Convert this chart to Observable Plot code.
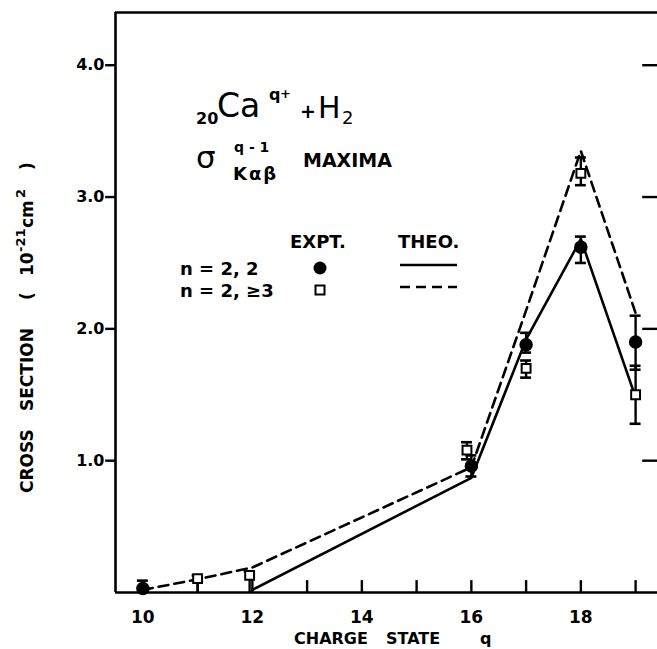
<!DOCTYPE html>
<html><head><meta charset="utf-8">
<script src="https://cdn.jsdelivr.net/npm/d3@7"></script>
<script src="https://cdn.jsdelivr.net/npm/@observablehq/plot@0.6"></script>
<style>html,body{margin:0;padding:0;background:#fff;overflow:hidden} svg{display:block}</style>
</head><body><div id="chart"></div>
<script>
// ---- data ----
const xTicks = [10, 11, 12, 13, 14, 15, 16, 17, 18, 19];
const xTickLabels = [10, 12, 14, 16, 18];
const yTicks = [1, 2, 3, 4];
const yTickLabels = ["1.0", "2.0", "3.0", "4.0"];

// theory, n = 2,2 (solid)
const theoQ22 = [12, 16, 17, 18, 19];
const theoV22 = [0.02, 0.87, 1.92, 2.68, 1.48];
// theory, n = 2,>=3 (dashed)
const theoQ23 = [10, 11, 12, 16, 17, 18, 19];
const theoV23 = [0.02, 0.10, 0.19, 0.95, 2.14, 3.35, 2.12];

// experiment, n = 2,2 (filled circles)
const exptQ22 = [10, 16, 17, 18, 19];
const exptV22 = [0.03, 0.96, 1.88, 2.62, 1.90];
const exptLo22 = [0.0, 0.88, 1.82, 2.50, 1.69];
const exptHi22 = [0.09, 1.04, 1.97, 2.70, 2.10];
// experiment, n = 2,>=3 (open squares)
const exptQ23 = [11, 11.95, 15.92, 17, 18, 19];
const exptV23 = [0.105, 0.13, 1.08, 1.70, 3.18, 1.50];
const exptLo23 = [0.0, 0.0, 1.01, 1.63, 3.09, 1.28];
const exptHi23 = [0.13, 0.16, 1.14, 1.76, 3.30, 1.72];

const FONT = "'DejaVu Sans', sans-serif";

const theo22 = theoQ22.map((q, i) => ({q, v: theoV22[i]}));
const theo23 = theoQ23.map((q, i) => ({q, v: theoV23[i]}));
const e22 = exptQ22.map((q, i) => ({q, v: exptV22[i], lo: exptLo22[i], hi: exptHi22[i]}));
const e23 = exptQ23.map((q, i) => ({q, v: exptV23[i], lo: exptLo23[i], hi: exptHi23[i]}));
const errs = [...e22, ...e23];
const caps = errs.flatMap(d => [d.lo, d.hi].filter(v => v > 0.02).map(v => ({q: d.q, v})));

const X0 = 9.5, X1 = 19.4, Y1 = 4.4;

const plot = Plot.plot({
  width: 657, height: 649,
  marginLeft: 115, marginRight: 0, marginTop: 12, marginBottom: 57,
  x: {domain: [X0, X1], axis: null},
  y: {domain: [0, Y1], axis: null},
  style: {fontFamily: FONT, color: "black", background: "white", overflow: "visible"},
  marks: [
    // frame
    Plot.ruleY([0], {x1: X0, x2: X1, strokeWidth: 2.6}),
    Plot.ruleY([Y1], {x1: X0, x2: X1, strokeWidth: 2.6}),
    Plot.ruleX([X0], {y1: 0, y2: Y1, strokeWidth: 2.6}),
    // ticks
    Plot.ruleX(xTicks, {x: d => d, y1: 0, y2: 0.09, strokeWidth: 2.4}),
    Plot.ruleY(yTicks, {y: d => d, x1: X0 - 0.18, x2: X0, strokeWidth: 2.4}),
    Plot.ruleY(yTicks, {y: d => d, x1: 19.13, x2: X1, strokeWidth: 2.4}),
    // tick labels
    Plot.text(xTickLabels, {x: d => d, y: 0, dy: 25, text: d => String(d), fontSize: 17, fontWeight: "bold"}),
    Plot.text(yTicks, {x: X0, y: d => d, dx: -11, textAnchor: "end", text: (d, i) => yTickLabels[i], fontSize: 16, fontWeight: "bold"}),
    // theory curves
    Plot.line(theo22, {x: "q", y: "v", stroke: "black", strokeWidth: 2.6}),
    Plot.line(theo23, {x: "q", y: "v", stroke: "black", strokeWidth: 2.6, strokeDasharray: "10,6"}),
    // error bars
    Plot.ruleX(errs, {x: "q", y1: "lo", y2: "hi", strokeWidth: 2.4}),
    Plot.ruleY(caps, {y: "v", x1: d => d.q - 0.1, x2: d => d.q + 0.1, strokeWidth: 2.6}),
    // experiment points
    Plot.dot(e22, {x: "q", y: "v", r: 6, fill: "black", stroke: "black"}),
    Plot.dot(e23, {x: "q", y: "v", symbol: "square", r: 5, fill: "white", stroke: "black", strokeWidth: 2})
  ]
});
document.getElementById("chart").appendChild(plot);

// ---- annotations (layout, pixel space) ----
const svg = d3.select(plot);
const g = svg.append("g").attr("font-family", FONT).attr("fill", "black")
  .attr("text-anchor", "start").style("text-anchor", "start");
function txt(x, y, s, size, weight) {
  return g.append("text").attr("x", x).attr("y", y).attr("font-size", size)
    .attr("font-weight", weight || "normal").attr("text-anchor", "start").text(s);
}
// title: 20Ca^{q+} + H2
txt(196, 124, "20", 16, "bold");
txt(217, 117, "Ca", 33, "normal");
txt(269, 100, "q", 16, "bold");
txt(280, 98, "+", 13, "bold");
txt(300, 118, "+", 19, "bold");
txt(318, 118, "H", 30, "normal");
txt(342, 124, "2", 18, "normal");
// sigma line
txt(196, 168, "σ", 31, "normal");
txt(234, 152, "q - 1", 14, "bold");
txt(233, 180, "Kαβ", 18, "bold").attr("letter-spacing", 2);
txt(303, 167, "MAXIMA", 19, "bold");
// legend
txt(290, 248, "EXPT.", 18, "bold");
txt(398, 248, "THEO.", 18, "bold");
txt(180, 275, "n = 2, 2", 18, "bold");
txt(180, 297, "n = 2, ≥3", 18, "bold");
g.append("circle").attr("cx", 320).attr("cy", 268).attr("r", 6.5).attr("fill", "black");
g.append("rect").attr("x", 315.5).attr("y", 285.5).attr("width", 9).attr("height", 9)
  .attr("fill", "white").attr("stroke", "black").attr("stroke-width", 2);
g.append("line").attr("x1", 400).attr("x2", 457).attr("y1", 265).attr("y2", 265)
  .attr("stroke", "black").attr("stroke-width", 2.6);
g.append("line").attr("x1", 400).attr("x2", 457).attr("y1", 287).attr("y2", 287)
  .attr("stroke", "black").attr("stroke-width", 2.6).attr("stroke-dasharray", "10,6");
// x axis title
const xt = g.append("text").attr("y", 644).attr("font-size", 16).attr("font-weight", "bold").attr("text-anchor", "start");
xt.append("tspan").attr("x", 294).text("CHARGE");
xt.append("tspan").attr("x", 386).text("STATE");
xt.append("tspan").attr("x", 480).text("q");
// y axis title (rotated)
const yt = g.append("text").attr("transform", "translate(33,0) rotate(-90)")
  .attr("font-size", 17).attr("font-weight", "bold").attr("text-anchor", "start");
yt.append("tspan").attr("x", -493).attr("y", 0).text("CROSS");
yt.append("tspan").attr("x", -411).attr("y", 0).text("SECTION");
yt.append("tspan").attr("x", -300).attr("y", 0).text("(");
yt.append("tspan").attr("x", -276).attr("y", 0).text("10");
yt.append("tspan").attr("x", -252).attr("y", -8).attr("font-size", 13).text("-21");
yt.append("tspan").attr("x", -228).attr("y", 0).text("cm");
yt.append("tspan").attr("x", -198).attr("y", -8).attr("font-size", 13).text("2");
yt.append("tspan").attr("x", -170).attr("y", 0).text(")");
</script>
</body></html>
